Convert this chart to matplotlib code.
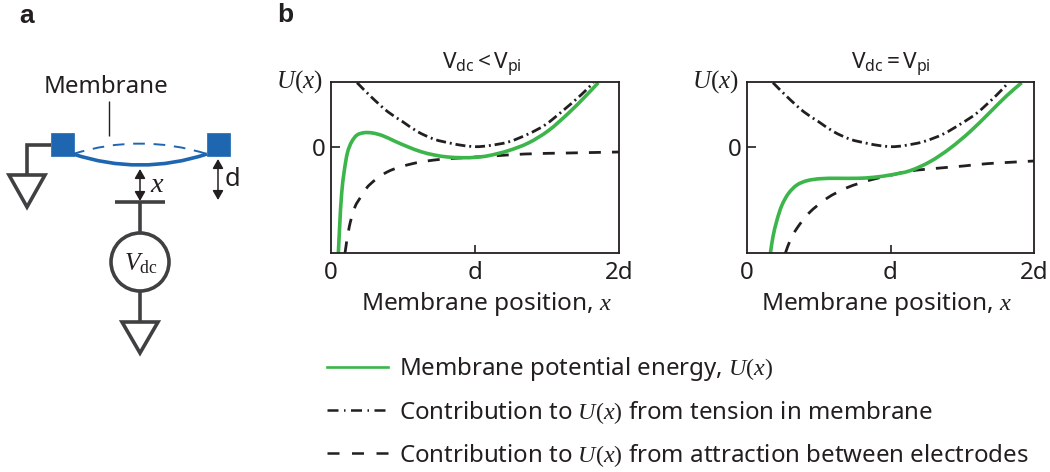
import numpy as np
import matplotlib
matplotlib.use("Agg")
import matplotlib.pyplot as plt
from matplotlib.lines import Line2D
from matplotlib.patches import Circle, Polygon, Rectangle, FancyArrowPatch, PathPatch
from matplotlib.path import Path

plt.rcParams['font.family'] = ['Noto Sans', 'DejaVu Sans']
plt.rcParams['mathtext.fontset'] = 'custom'
plt.rcParams['mathtext.rm'] = 'Liberation Serif'
plt.rcParams['mathtext.it'] = 'Liberation Serif:italic'
plt.rcParams['mathtext.sf'] = 'Noto Sans'

# Left panel (Vdc < Vpi), x in units of d
l_total_x = [.051,.060,.074,.093,.116,.144,.181,.231,.289,.359,.44,.532,.625,.718,.81,.914,1.007,1.093,1.231,1.37,1.509,1.648,1.764,1.856]
l_total_y = [-106.3,-79.7,-46.3,-23,-4.7,5.3,12,14.3,14,11.3,6,.3,-4.7,-8,-10,-10.7,-10.3,-8.7,-3.7,4,16.3,33.7,50.3,64.3]
l_tension_x = [.181,.278,.394,.498,.602,.718,.833,.926,1.007,1.093,1.231,1.37,1.486,1.602,1.741,1.822]
l_tension_y = [64.3,50.3,35.3,25.3,15.3,7.7,3.7,1.3,.3,1.3,5,13,22,35.3,52.7,64.3]
l_attract_x = [.097,.127,.167,.208,.266,.394,.556,.718,.856,1.093,1.347,1.648,2.0]
l_attract_y = [-106.3,-79.7,-59.7,-49.7,-38,-24.7,-17,-13,-11.3,-9.3,-7,-6,-5]

# Right panel (Vdc = Vpi)
r_total_x = [.163,.181,.209,.244,.29,.348,.418,.511,.627,.767,.883,1.01,1.136,1.275,1.415,1.554,1.693,1.81,1.914]
r_total_y = [-106.3,-89.7,-73,-58,-46.3,-38,-33.7,-31.7,-31.3,-31.3,-30.3,-27.7,-23.7,-14.7,-1.3,15.3,34.7,51.3,64.3]
r_tension_x = [.181,.279,.395,.499,.604,.72,.836,.929,1.01,1.09,1.229,1.368,1.496,1.6,1.74,1.821]
r_tension_y = [64.3,50.3,35.3,25.3,15.3,7.7,3.7,1.3,.3,1.3,5.3,13,23.7,33.7,52,64.3]
r_attract_x = [.267,.302,.348,.43,.557,.697,.859,1.01,1.136,1.345,1.508,1.67,1.833,2.0]
r_attract_y = [-106.3,-93,-81.3,-66.3,-51.3,-40.7,-33,-28,-24,-21,-19,-16.7,-15.3,-14]

x_ticks = [0, 1, 2]
x_labels = ['0', 'd', '2d']
titles = [r'$\mathsf{V_{dc}<V_{pi}}$', r'$\mathsf{V_{dc}=V_{pi}}$']
legend_labels = ['Membrane potential energy, $U(x)$',
                 'Contribution to $U(x)$ from tension in membrane',
                 'Contribution to $U(x)$ from attraction between electrodes']

W, H = 1050, 472
GREEN = '#3cb54a'; DARK = '#231f20'; GRAY = '#404042'; BLUE = '#1f66b0'
FS = 17.3
DASHDOT = (0, (3.6, 1.4, 0.7, 1.4))
DASH = (0, (4.3, 4.0))

fig = plt.figure(figsize=(W/100, H/100), dpi=100)

def make_axes(x0, x1, y0, y1):
    return fig.add_axes([x0/W, 1-y1/H, (x1-x0)/W, (y1-y0)/H])

def smooth_curve(ax, xs, ys, **kw):
    """Draw a curve through the read values with Bezier segments, on the axes' data scale."""
    p = np.column_stack([xs, ys]).astype(float)
    sx = 144.0
    q = p * [sx, 1.0]
    d = np.hypot(*np.diff(q, axis=0).T)
    t = np.zeros_like(q)
    t[1:-1] = q[2:] - q[:-2]
    t[0] = q[1] - q[0]; t[-1] = q[-1] - q[-2]
    t /= np.hypot(*t.T)[:, None]
    verts = [p[0]]; codes = [Path.MOVETO]
    for i in range(len(q) - 1):
        verts += [(q[i] + t[i]*d[i]/3) / [sx, 1.0], (q[i+1] - t[i+1]*d[i]/3) / [sx, 1.0], p[i+1]]
        codes += [Path.CURVE4] * 3
    ax.add_patch(PathPatch(Path(verts, codes), fc='none', capstyle='butt', **kw))

ax1 = make_axes(331, 619, 82, 253)
ax2 = make_axes(747, 1034, 82, 253)
series = [(ax1, l_total_x, l_total_y, l_tension_x, l_tension_y, l_attract_x, l_attract_y, titles[0], .542, .525),
          (ax2, r_total_x, r_total_y, r_tension_x, r_tension_y, r_attract_x, r_attract_y, titles[1], .488, .50)]
for ax, tx, ty, ux, uy, ax_, ay, title, label_x, title_x in series:
    smooth_curve(ax, ux, uy, ec=DARK, lw=2.0, ls=DASHDOT)
    smooth_curve(ax, ax_, ay, ec=DARK, lw=2.0, ls=DASH)
    smooth_curve(ax, tx, ty, ec=GREEN, lw=2.6)
    ax.set_xlim(0, 2); ax.set_ylim(-106, 65)
    ax.set_xticks(x_ticks, x_labels, fontsize=FS, color=DARK)
    ax.set_yticks([0], ['0'], fontsize=FS, color=DARK)
    ax.tick_params(axis='x', direction='in', length=5.5, width=1.2, color=DARK, pad=6)
    ax.tick_params(axis='y', direction='in', length=6.5, width=1.2, color=DARK, pad=4)
    ax.xaxis.get_major_ticks()[0].tick1line.set_visible(False)
    ax.xaxis.get_major_ticks()[2].tick1line.set_visible(False)
    for s in ax.spines.values():
        s.set_linewidth(1.3); s.set_color(DARK)
    ax.set_xlabel('Membrane position, $x$', fontsize=FS+0.3, color=DARK, labelpad=3.5, x=label_x)
    ax.set_title(title, fontsize=FS-1, color=DARK, pad=9, x=title_x)
    ax.text(-0.03, 1.0, '$U(x)$', transform=ax.transAxes, ha='right', va='center',
            fontsize=FS+0.7, color=DARK)

handles = [Line2D([], [], color=GREEN, lw=1.9),
           Line2D([], [], color=DARK, lw=1.8, ls=(0, (4.4, 2.2, 0.6, 2.2))),
           Line2D([], [], color=DARK, lw=1.8, ls=(0, (4.8, 5.0)))]
fig.legend(handles, legend_labels, loc='upper left', bbox_to_anchor=(327/W, 1-355/H),
           frameon=False, fontsize=FS, handlelength=2.55, handletextpad=0.45,
           labelspacing=0.66, labelcolor=DARK, borderaxespad=0, borderpad=0)

# Panel a schematic, in figure pixel coordinates
s = fig.add_axes([0, 0, 1, 1], zorder=5)
s.set_xlim(0, W); s.set_ylim(H, 0); s.axis('off'); s.patch.set_alpha(0)

def line(xs, ys, lw=2.6, c=GRAY, **kw):
    s.plot(xs, ys, color=c, lw=lw, solid_capstyle='butt', solid_joinstyle='miter', **kw)

line([51, 27, 27], [145, 145, 175])
s.add_patch(Polygon([(9, 175), (45, 175), (27, 207)], closed=True, fc='white', ec=GRAY, lw=2.6))
line([140, 140], [202, 232])
line([115, 165], [202, 202])
s.add_patch(Circle((140, 262), 29, fc='white', ec=GRAY, lw=2.6))
line([140, 140], [291, 322])
s.add_patch(Polygon([(122, 322), (158, 322), (140, 353)], closed=True, fc='white', ec=GRAY, lw=2.6))

s.add_patch(PathPatch(Path([(73, 154), (140, 176), (207, 154)], [Path.MOVETO, Path.CURVE3, Path.CURVE3]),
                      fc='none', ec=BLUE, lw=2.6))
s.add_patch(PathPatch(Path([(73, 154), (140, 133), (207, 154)], [Path.MOVETO, Path.CURVE3, Path.CURVE3]),
                      fc='none', ec=BLUE, lw=1.4, ls=(0, (6, 4.5))))
for x0 in (51, 207):
    s.add_patch(Rectangle((x0, 133), 23, 23, fc=BLUE, ec=BLUE, lw=0.5, joinstyle='round', zorder=4))
line([108.5, 108.5], [101, 136], lw=1.0, c=DARK)
for xa, y0, y1 in ((140, 169, 201), (218, 159, 200)):
    s.add_patch(FancyArrowPatch((xa, y0), (xa, y1), arrowstyle='<|-|>,head_length=3.5,head_width=2',
                                mutation_scale=1.6, color=DARK, lw=1.1, shrinkA=0, shrinkB=0))

s.text(106, 87, 'Membrane', fontsize=FS, color=DARK, ha='center', va='center')
s.text(157, 184, '$x$', fontsize=FS+3, color=DARK, ha='center', va='center')
s.text(232, 179, 'd', fontsize=FS+1, color=DARK, ha='center', va='center')
s.text(141, 264, r'$V_{\mathrm{dc}}$', fontsize=FS+1, color=DARK, ha='center', va='center')
s.text(27, 16, 'a', fontsize=19, fontweight='bold', family='Liberation Sans', color=DARK, ha='center', va='center')
s.text(285, 15, 'b', fontsize=19, fontweight='bold', family='Liberation Sans', color=DARK, ha='center', va='center')

fig.savefig('out.png', dpi=100)
